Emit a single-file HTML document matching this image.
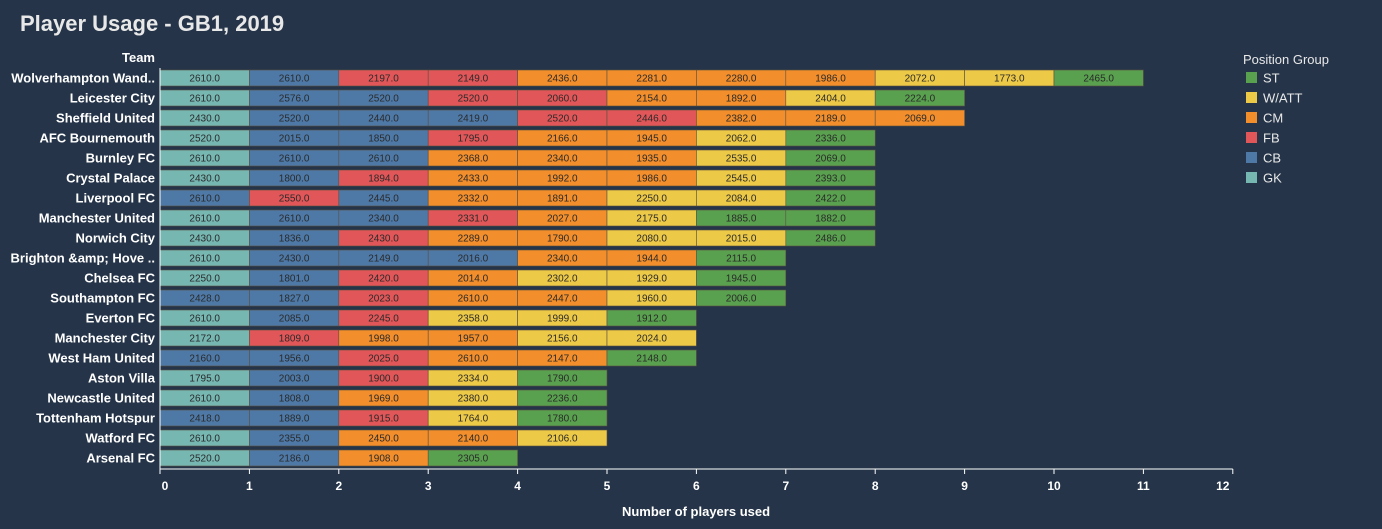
<!DOCTYPE html>
<html><head><meta charset="utf-8"><style>
html,body{margin:0;padding:0;background:#253449;width:1382px;height:529px;overflow:hidden}
svg{display:block;font-family:"Liberation Sans",sans-serif}
</style></head><body>
<svg id="chart" width="1382" height="529">
<rect width="1382" height="529" fill="#253449"/>
<text x="20" y="31" fill="#e8e8e8" font-size="22" font-weight="bold">Player Usage - GB1, 2019</text>
<text x="155" y="62" fill="#ffffff" font-size="13" font-weight="bold" text-anchor="end">Team</text>
<text x="696" y="516" fill="#ffffff" font-size="13" font-weight="bold" text-anchor="middle">Number of players used</text>
<g id="bars"></g><g id="axes"></g><g id="legend"></g>
</svg>
<script>
const teams=["Wolverhampton Wand..","Leicester City","Sheffield United","AFC Bournemouth","Burnley FC","Crystal Palace","Liverpool FC","Manchester United","Norwich City","Brighton &amp; Hove ..","Chelsea FC","Southampton FC","Everton FC","Manchester City","West Ham United","Aston Villa","Newcastle United","Tottenham Hotspur","Watford FC","Arsenal FC"];
const positions=[
["GK","CB","FB","FB","CM","CM","CM","CM","W/ATT","W/ATT","ST"],
["GK","CB","CB","FB","FB","CM","CM","W/ATT","ST"],
["GK","CB","CB","CB","FB","FB","CM","CM","CM"],
["GK","CB","CB","FB","CM","CM","W/ATT","ST"],
["GK","CB","CB","CM","CM","CM","W/ATT","ST"],
["GK","CB","FB","CM","CM","CM","W/ATT","ST"],
["CB","FB","CB","CM","CM","W/ATT","W/ATT","ST"],
["GK","CB","CB","FB","CM","W/ATT","ST","ST"],
["GK","CB","FB","CM","CM","W/ATT","W/ATT","ST"],
["GK","CB","CB","CB","CM","CM","ST"],
["GK","CB","FB","CM","W/ATT","W/ATT","ST"],
["CB","CB","FB","CM","CM","W/ATT","ST"],
["GK","CB","FB","W/ATT","W/ATT","ST"],
["GK","FB","CM","CM","W/ATT","W/ATT"],
["CB","CB","FB","CM","CM","ST"],
["GK","CB","FB","W/ATT","ST"],
["GK","CB","CM","W/ATT","ST"],
["CB","CB","FB","W/ATT","ST"],
["GK","CB","CM","CM","W/ATT"],
["GK","CB","CM","ST"]];
const minutes=[
[2610,2610,2197,2149,2436,2281,2280,1986,2072,1773,2465],
[2610,2576,2520,2520,2060,2154,1892,2404,2224],
[2430,2520,2440,2419,2520,2446,2382,2189,2069],
[2520,2015,1850,1795,2166,1945,2062,2336],
[2610,2610,2610,2368,2340,1935,2535,2069],
[2430,1800,1894,2433,1992,1986,2545,2393],
[2610,2550,2445,2332,1891,2250,2084,2422],
[2610,2610,2340,2331,2027,2175,1885,1882],
[2430,1836,2430,2289,1790,2080,2015,2486],
[2610,2430,2149,2016,2340,1944,2115],
[2250,1801,2420,2014,2302,1929,1945],
[2428,1827,2023,2610,2447,1960,2006],
[2610,2085,2245,2358,1999,1912],
[2172,1809,1998,1957,2156,2024],
[2160,1956,2025,2610,2147,2148],
[1795,2003,1900,2334,1790],
[2610,1808,1969,2380,2236],
[2418,1889,1915,1764,1780],
[2610,2355,2450,2140,2106],
[2520,2186,1908,2305]];
const xTicks=[0,1,2,3,4,5,6,7,8,9,10,11,12];
const legendItems=["ST","W/ATT","CM","FB","CB","GK"];
const colors={"GK":"#76b7b2","CB":"#4e79a7","FB":"#e15759","CM":"#f28e2b","W/ATT":"#edc948","ST":"#59a14f"};
const NS="http://www.w3.org/2000/svg";
const X0=160,UNIT=89.4,Y0=78,STEP=20,BH=16;
const xs=v=>X0+v*UNIT, ys=i=>Y0+i*STEP;
function mk(tag,attrs,parent){const e=document.createElementNS(NS,tag);for(const k in attrs)e.setAttribute(k,attrs[k]);parent.appendChild(e);return e;}
const bars=document.getElementById('bars'),axes=document.getElementById('axes'),legend=document.getElementById('legend');
teams.forEach((t,i)=>{
  const lab=mk('text',{x:155,y:ys(i)+4.5,fill:'#ffffff','font-size':13,'font-weight':'bold','text-anchor':'end'},axes);
  lab.textContent=t;
  
  
  minutes[i].forEach((m,j)=>{
    const r=mk('rect',{x:xs(j),y:ys(i)-BH/2,width:UNIT,height:BH,fill:colors[positions[i][j]],stroke:'#5a5040','stroke-width':0.6},bars);
    
    
    const tx=mk('text',{x:xs(j+0.5),y:ys(i)+3.5,fill:'#2a2a2a','font-size':10,'text-anchor':'middle'},bars);
    tx.textContent=m.toFixed(1);
    
    
  });
});
const yl=mk('line',{x1:X0,y1:68,x2:X0,y2:469,stroke:'#ffffff','stroke-width':1},axes);


const xl=mk('line',{x1:X0,y1:469,x2:xs(12),y2:469,stroke:'#ffffff','stroke-width':1},axes);


xTicks.forEach((v,k)=>{
  const tk=mk('line',{x1:xs(v),y1:469,x2:xs(v),y2:474,stroke:'#ffffff','stroke-width':1},axes);
  
  
  let lx=xs(v); if(k===0)lx+=5; if(k===xTicks.length-1)lx-=10;
  const tl=mk('text',{x:lx,y:490,fill:'#ffffff','font-size':12,'font-weight':'bold','text-anchor':'middle'},axes);
  tl.textContent=v;
  
  
});
const lt=mk('text',{x:1243,y:64,fill:'#e8e8e8','font-size':13},legend);
lt.textContent='Position Group';


legendItems.forEach((p,k)=>{
  const y=78+k*20;
  const sw=mk('rect',{x:1246,y:y-6,width:11,height:11,fill:colors[p]},legend);
  
  
  const tx=mk('text',{x:1263,y:y+4.5,fill:'#e8e8e8','font-size':13},legend);
  tx.textContent=p;
  
  
});
</script>
</body></html>
